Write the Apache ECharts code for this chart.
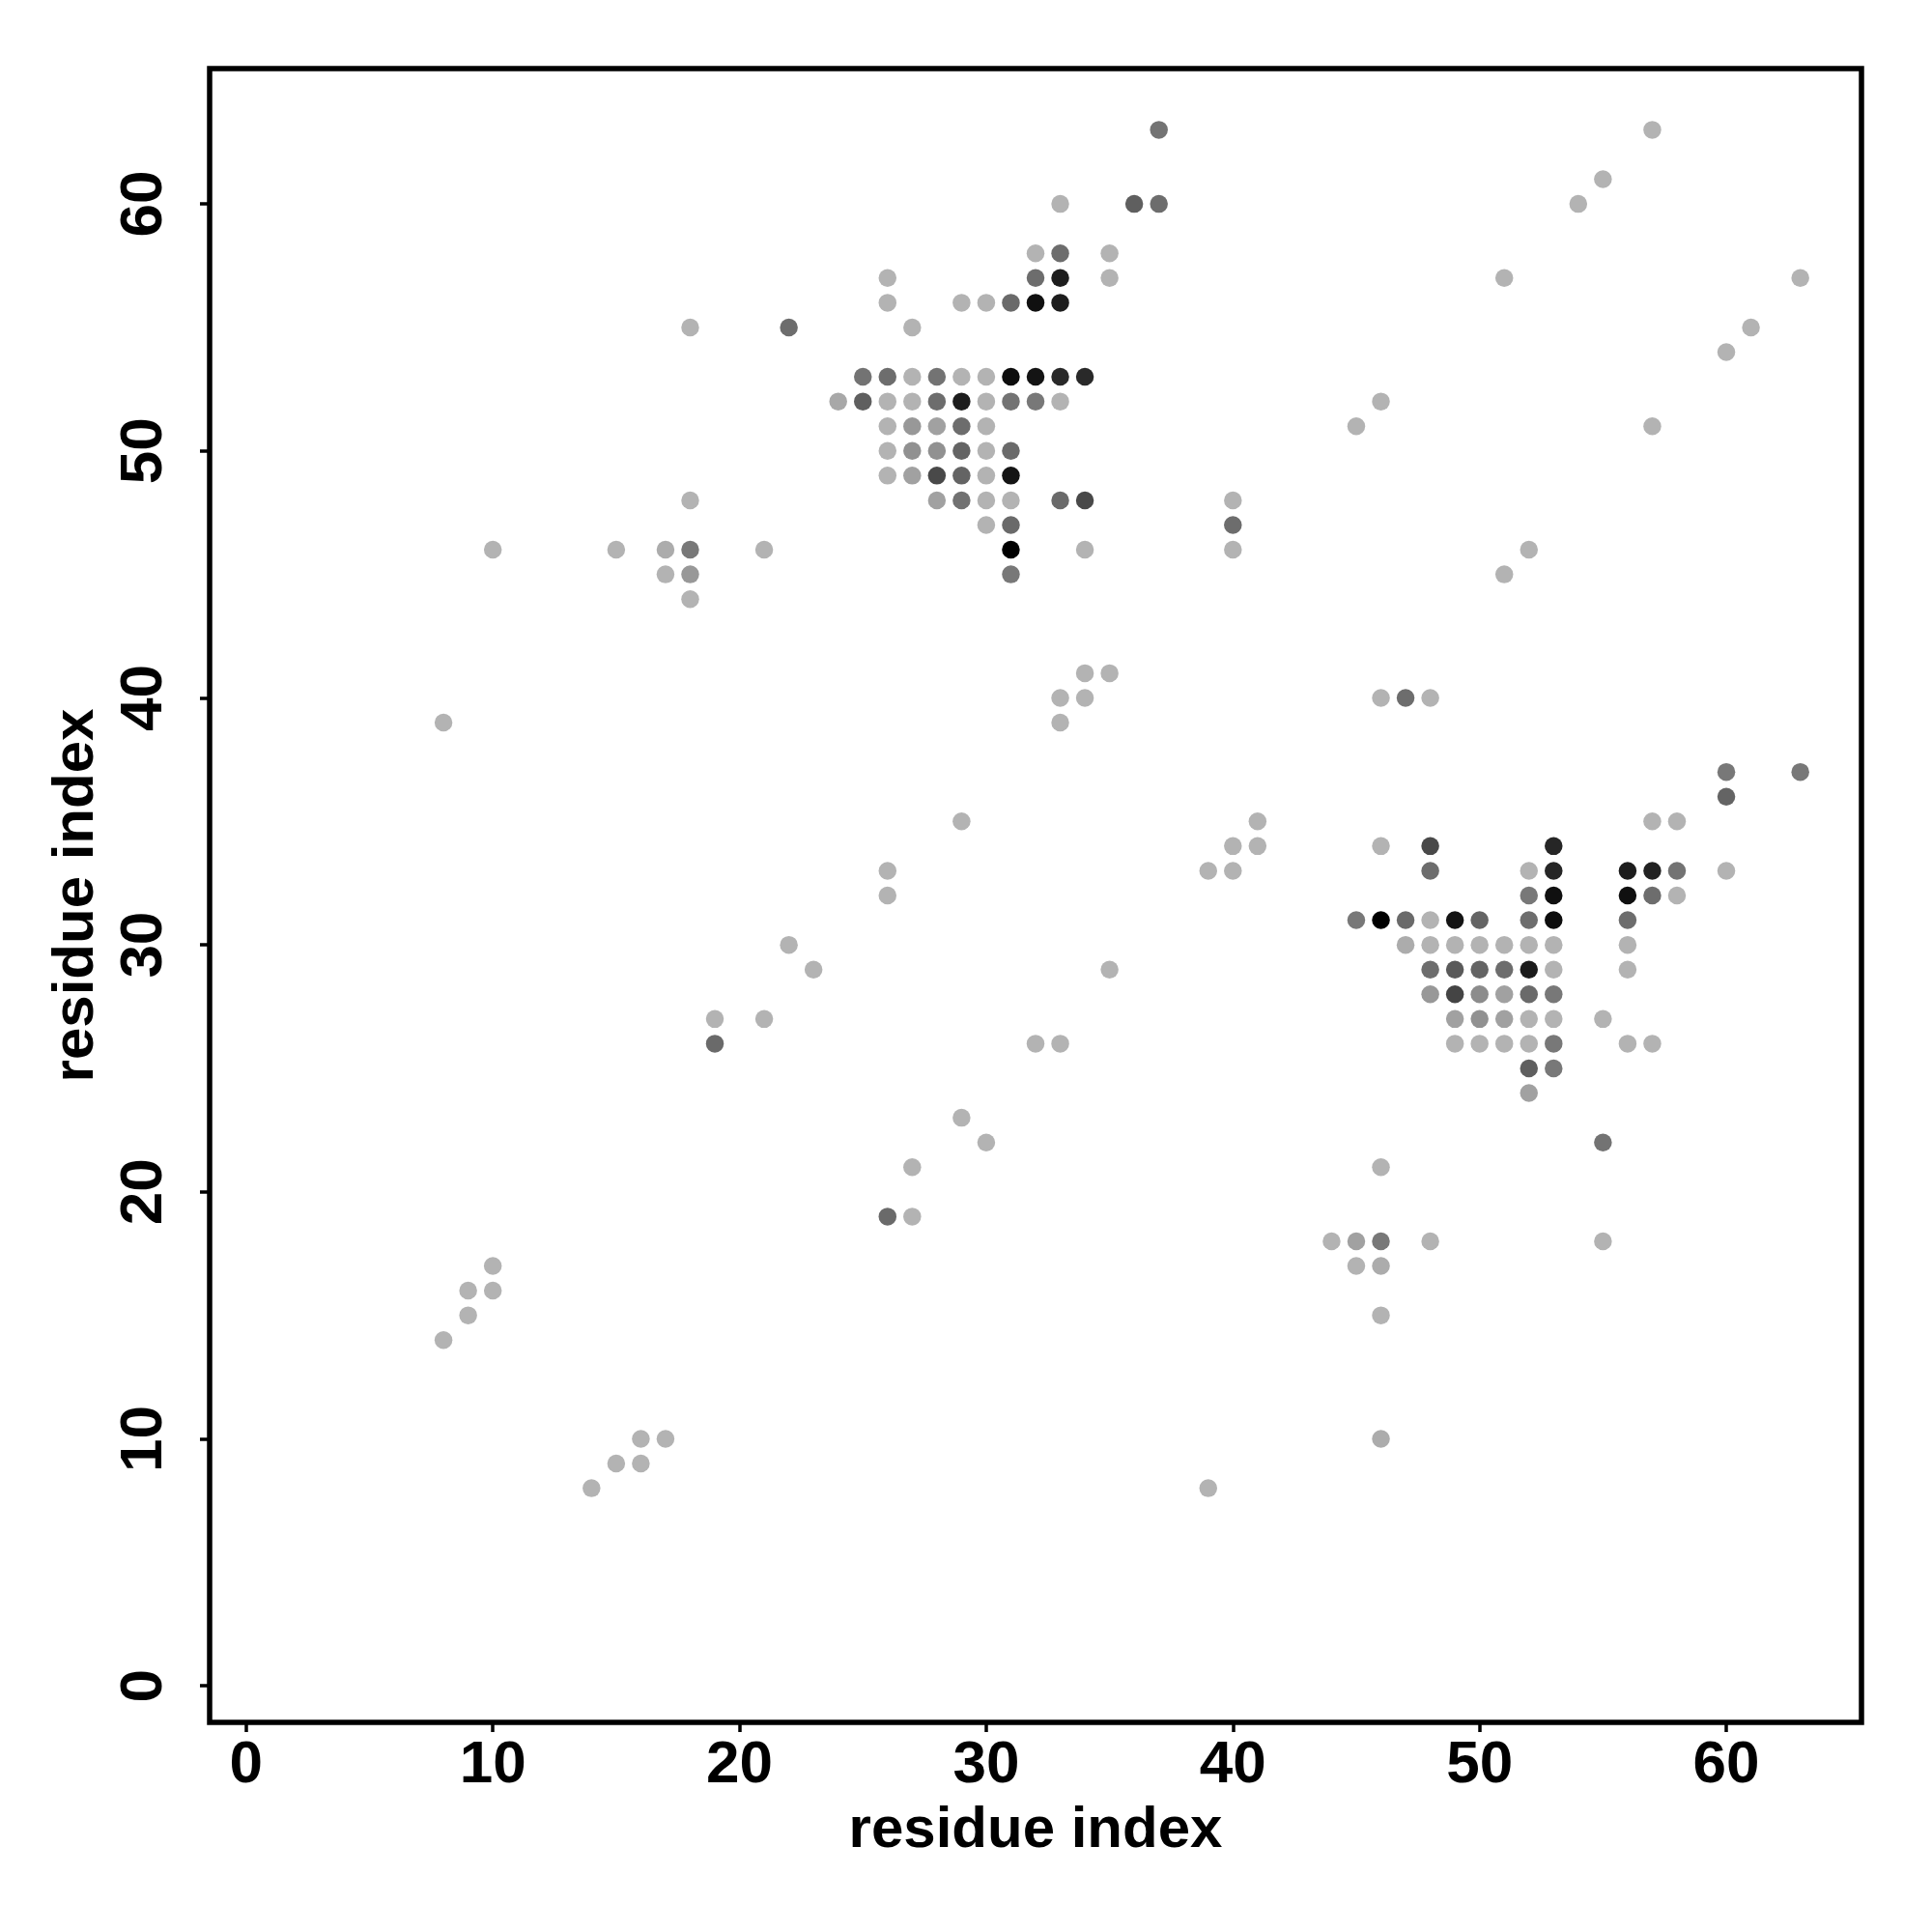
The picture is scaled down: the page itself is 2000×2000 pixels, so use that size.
<!DOCTYPE html>
<html>
<head>
<meta charset="utf-8">
<script src="https://cdn.jsdelivr.net/npm/echarts@6/dist/echarts.min.js"></script>
<style>
html,body{margin:0;padding:0;background:#fff;}
#chart{width:2000px;height:2000px;}
</style>
</head>
<body>
<div id="chart"></div>
<script>
// residue index pairs (x = residue i, y = residue j)
var residueI = [
  37,57,
  55,
  33,36,37,54,
  32,33,35,
  26,32,33,35,51,63,
  26,29,30,31,32,33,
  18,22,27,61,
  60,
  25,26,27,28,29,30,31,32,33,34,
  24,25,26,27,28,29,30,31,32,33,46,
  26,27,28,29,30,45,57,
  26,27,28,29,30,31,
  26,27,28,29,30,31,
  18,28,29,30,31,33,34,40,
  30,31,40,
  10,15,17,18,21,31,34,40,52,
  17,18,31,51,
  18,
  34,35,
  33,34,46,47,48,
  8,33,
  60,63,
  60,
  29,41,57,58,
  40,41,46,48,53,
  26,39,40,48,52,53,56,57,58,60,
  26,52,53,56,57,58,
  45,46,47,48,49,50,52,53,56,
  22,47,48,49,50,51,52,53,56,
  23,35,48,49,50,51,52,53,56,
  48,49,50,51,52,53,
  19,21,49,50,51,52,53,55,
  19,32,33,49,50,51,52,53,56,57,
  52,53,
  52,
  29,
  30,55,
  27,46,
  26,27,
  44,45,46,48,55,
  10,45,46,
  9,10,
  9,46,
  8,
  16,17,46,
  15,16,
  14,39
];
var residueJ = [
  63,63,
  61,
  60,60,60,60,
  58,58,58,
  57,57,57,57,57,57,
  56,56,56,56,56,56,
  55,55,55,55,
  54,
  53,53,53,53,53,53,53,53,53,53,
  52,52,52,52,52,52,52,52,52,52,52,
  51,51,51,51,51,51,51,
  50,50,50,50,50,50,
  49,49,49,49,49,49,
  48,48,48,48,48,48,48,48,
  47,47,47,
  46,46,46,46,46,46,46,46,46,
  45,45,45,45,
  44,
  41,41,
  40,40,40,40,40,
  39,39,
  37,37,
  36,
  35,35,35,35,
  34,34,34,34,34,
  33,33,33,33,33,33,33,33,33,33,
  32,32,32,32,32,32,
  31,31,31,31,31,31,31,31,31,
  30,30,30,30,30,30,30,30,30,
  29,29,29,29,29,29,29,29,29,
  28,28,28,28,28,28,
  27,27,27,27,27,27,27,27,
  26,26,26,26,26,26,26,26,26,26,
  25,25,
  24,
  23,
  22,22,
  21,21,
  19,19,
  18,18,18,18,18,
  17,17,17,
  16,16,
  15,15,
  14,
  10,10,10,
  9,9,
  8,8
];
// contact score (0 = weakest / light grey, 100 = strongest / black)
var contactScore = [
  36,0,
  0,
  0,47,39,0,
  0,39,0,
  0,39,84,0,0,0,
  0,0,0,41,91,84,
  0,39,0,0,
  0,
  36,39,0,36,0,0,93,89,77,77,
  6,47,0,0,39,84,0,36,33,0,0,
  0,15,10,39,0,0,0,
  0,19,19,44,0,41,
  0,10,59,44,0,89,
  0,10,37,0,0,41,59,0,
  0,41,39,
  0,0,4,33,0,100,0,0,0,
  0,15,33,0,
  0,
  0,0,
  0,0,0,39,0,
  0,0,
  33,33,
  44,
  0,0,0,0,
  0,0,0,59,79,
  0,0,0,39,0,79,84,81,36,0,
  0,33,91,91,39,0,
  33,100,41,0,89,44,39,93,39,
  0,4,0,0,0,0,0,0,0,
  0,0,39,50,44,39,85,0,0,
  15,62,22,10,41,33,
  0,0,10,19,10,0,0,0,
  41,0,0,0,0,0,0,33,0,0,
  47,33,
  10,
  0,
  0,36,
  0,0,
  41,0,
  0,10,33,0,0,
  0,0,4,
  0,0,
  0,0,
  0,
  0,0,4,
  0,0,
  0,0
];
var tickValues = [0, 10, 20, 30, 40, 50, 60];
var axisTitleX = 'residue index';
var axisTitleY = 'residue index';

var points = residueI.map(function (x, k) { return [x, residueJ[k], contactScore[k]]; });

var FONT = '"Liberation Sans", Arial, Helvetica, sans-serif';
var chart = echarts.init(document.getElementById('chart'), null, {renderer: 'canvas'});
chart.setOption({
  animation: false,
  backgroundColor: '#ffffff',
  grid: {
    left: 217, right: 73, top: 71, bottom: 217,
    show: true, borderColor: '#000', borderWidth: 5.5, backgroundColor: 'transparent'
  },
  xAxis: {
    type: 'value', min: -1.48, max: 65.48,
    name: axisTitleX, nameLocation: 'middle', nameGap: 82,
    nameTextStyle: {fontFamily: FONT, fontWeight: 'bold', fontSize: 60, color: '#000'},
    axisLine: {show: false, onZero: false},
    axisTick: {show: true, customValues: tickValues, length: 10, lineStyle: {color: '#000', width: 3.5}},
    axisLabel: {customValues: tickValues, margin: 14, fontFamily: FONT, fontWeight: 'bold', fontSize: 62, color: '#000'},
    splitLine: {show: false}
  },
  yAxis: {
    type: 'value', min: -1.48, max: 65.48,
    name: axisTitleY, nameLocation: 'middle', nameGap: 108,
    nameTextStyle: {fontFamily: FONT, fontWeight: 'bold', fontSize: 60, color: '#000'},
    axisLine: {show: false, onZero: false},
    axisTick: {show: true, customValues: tickValues, length: 10, lineStyle: {color: '#000', width: 3.5}},
    axisLabel: {customValues: tickValues, rotate: 90, margin: 36, fontFamily: FONT, fontWeight: 'bold', fontSize: 62, color: '#000'},
    splitLine: {show: false}
  },
  visualMap: {
    type: 'continuous', show: false, dimension: 2, min: 0, max: 100,
    seriesIndex: 0, inRange: {color: ['#b3b3b3', '#000000']}
  },
  series: [{
    type: 'scatter',
    data: points,
    symbol: 'circle',
    symbolSize: 18.5,
    itemStyle: {opacity: 1},
    emphasis: {disabled: true}
  }]
});
</script>
</body>
</html>
